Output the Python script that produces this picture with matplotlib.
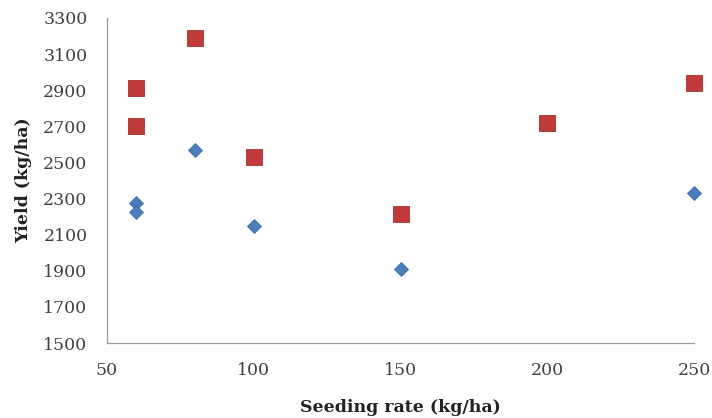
import matplotlib
matplotlib.use("Agg")
import matplotlib.pyplot as plt

seeding_blue = [60, 60, 80, 100, 150, 250]
yield_blue = [2276, 2226, 2569, 2150, 1910, 2333]
seeding_red = [60, 60, 80, 100, 150, 200, 250]
yield_red = [2912, 2702, 3191, 2530, 2213, 2717, 2942]
x_ticks = [50, 100, 150, 200, 250]
y_ticks = [1500, 1700, 1900, 2100, 2300, 2500, 2700, 2900, 3100, 3300]

fig = plt.figure(figsize=(7.12, 4.18), dpi=100)
ax = fig.add_axes([107/712, 1-343/418, (694-107)/712, (343-18)/418])

ax.plot(seeding_blue, yield_blue, linestyle='none', marker='D', markersize=7.2,
        markerfacecolor='#4A7EBB', markeredgecolor='#3F6FA8', markeredgewidth=0.6,
        zorder=3, clip_on=False)
ax.plot(seeding_red, yield_red, linestyle='none', marker='s', markersize=11.5,
        markerfacecolor='#C23B3B', markeredgecolor='#A33030', markeredgewidth=0.6,
        zorder=3, clip_on=False)

ax.set_xlim(50, 250)
ax.set_ylim(1500, 3300)
ax.set_xticks(x_ticks)
ax.set_yticks(y_ticks)
for s in ['top', 'right']:
    ax.spines[s].set_visible(False)
for s in ['left', 'bottom']:
    ax.spines[s].set_color('#9A9A9A')
    ax.spines[s].set_linewidth(0.9)
ax.tick_params(axis='x', length=0, pad=14, labelsize=12.5, labelcolor='#404040')
ax.tick_params(axis='y', length=0, pad=14, labelsize=12.5, labelcolor='#404040')
for lab in ax.get_xticklabels() + ax.get_yticklabels():
    lab.set_family('DejaVu Serif')

ax.set_xlabel('Seeding rate (kg/ha)', family='DejaVu Serif', fontweight='bold',
              fontsize=12.5, color='#222222', labelpad=14)
ax.set_ylabel('Yield (kg/ha)', family='DejaVu Serif', fontweight='bold',
              fontsize=12.5, color='#222222', labelpad=8)

fig.savefig('out.png', dpi=100)
